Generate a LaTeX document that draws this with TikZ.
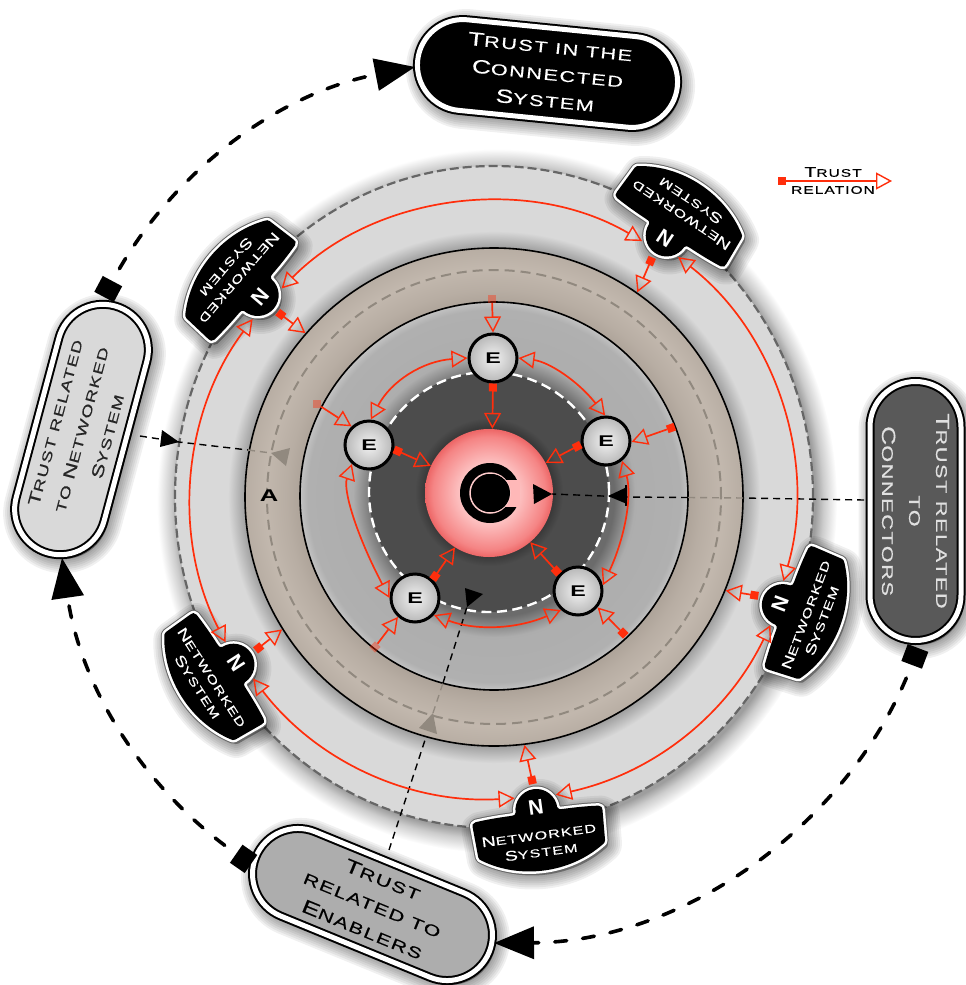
\documentclass[tikz,border=0pt]{standalone}
\usepackage{fontspec}
\usetikzlibrary{arrows.meta,shapes.misc,calc}
\newfontfamily\gf[FakeStretch=1.4,LetterSpace=10,FakeBold=0.35]{Liberation Sans}
\newfontfamily\gn[FakeStretch=1.5]{Liberation Sans}
\definecolor{redc}{RGB}{255,46,12}
\definecolor{ringd}{RGB}{145,137,127}
\newcommand\Tc[2]{{\fontsize{19}{27}\selectfont #1}{\fontsize{15.5}{27}\selectfont #2}}
\newcommand\Td[2]{{\fontsize{16.5}{26}\selectfont #1}{\fontsize{13.6}{26}\selectfont #2}}
\newcommand\Nc[2]{{\fontsize{14}{17}\selectfont #1}{\fontsize{11.5}{17}\selectfont #2}}
\newcommand\Lc[2]{{\fontsize{14}{17}\selectfont #1}{\fontsize{11}{17}\selectfont #2}}
\pgfdeclareradialshading{sglow}{\pgfpointorigin}{rgb(0bp)=(.62,.62,.62);rgb(23.4bp)=(.62,.62,.62);rgb(24bp)=(.8,.8,.8);rgb(25bp)=(1,1,1);rgb(50bp)=(1,1,1)}
\pgfdeclareradialshading{sdisc}{\pgfpointorigin}{rgb(0bp)=(.62,.62,.62);rgb(23.4bp)=(.62,.62,.62);rgb(25bp)=(.85,.85,.85);rgb(50bp)=(.85,.85,.85)}
\pgfdeclareradialshading{sring}{\pgfpointorigin}{rgb(0bp)=(.68,.64,.6);rgb(19.4bp)=(.68,.64,.6);rgb(20.8bp)=(.72,.68,.64);rgb(23bp)=(.76,.72,.68);rgb(25bp)=(.72,.68,.64);rgb(50bp)=(.68,.64,.6)}
\pgfdeclareradialshading{sgray}{\pgfpointorigin}{rgb(0bp)=(.4,.4,.4);rgb(15.5bp)=(.42,.42,.42);rgb(18.2bp)=(.68,.68,.68);rgb(24bp)=(.69,.69,.69);rgb(25bp)=(.76,.76,.76);rgb(50bp)=(.76,.76,.76)}
\pgfdeclareradialshading{sdark}{\pgfpointorigin}{rgb(0bp)=(.22,.22,.22);rgb(13.3bp)=(.22,.22,.22);rgb(15.5bp)=(.3,.3,.3);rgb(25bp)=(.3,.3,.3);rgb(50bp)=(.3,.3,.3)}
\pgfdeclareradialshading{sball}{\pgfpointorigin}{rgb(0bp)=(1,.87,.87);rgb(12bp)=(.99,.75,.75);rgb(22bp)=(.96,.52,.52);rgb(25bp)=(.93,.4,.4);rgb(50bp)=(.93,.4,.4)}
\pgfdeclareradialshading{sE}{\pgfpointorigin}{rgb(0bp)=(.95,.95,.95);rgb(25bp)=(.72,.72,.72);rgb(50bp)=(.72,.72,.72)}
\tikzset{
 tipo/.tip={Triangle[open,length=16pt,width=17pt,line width=1.4pt]},
 tipq/.tip={Square[length=8pt,width=8pt]},
 bigtips/.style={{Square[length=18pt,width=22pt]}-{Triangle[length=40pt,width=32pt]}},
 rel/.style={draw=redc,line width=1.7pt},
 bigdash/.style={draw=black,line width=3.6pt,dash pattern=on 12pt off 16pt,dash phase=12pt,line cap=round},
 thindash/.style={draw=black,line width=1.4pt,dash pattern=on 7pt off 5pt},
 fadedsq/.style={rectangle,fill=redc,opacity=.4,minimum size=8pt,inner sep=0pt},
 enode/.style={circle,draw=black,line width=3pt,minimum size=48pt,inner sep=0pt,shading=sE,font=\gn\bfseries\fontsize{15.5}{16}\selectfont},
 nletter/.style={circle,minimum size=46pt,inner sep=0pt,text=white,font=\fontspec{Liberation Sans}\bfseries\fontsize{21}{21}\selectfont},
 ntext/.style={text=white,inner sep=0pt,font=\gf},
 pillbox/.style={rounded rectangle,draw=black,line width=2pt,double=white,double distance=5pt,inner sep=0pt,align=center,font=\gf\fontsize{16}{27}\selectfont},
 arcb/.style={bend left=#1,looseness=.93}
}
\newcommand\softsh[1]{%
 \foreach \w in {28,24,20,16,12,8,4}{\draw[black,fill=black,opacity=.06,line width=\w pt,line join=round] #1;}}
\def\Npath{(-21,3) .. controls (-21,-8) and (-12,-18) .. (0,-18) .. controls (12,-18) and (21,-8) .. (21,3) .. controls (21,5) and (23,5.5) .. (27,5.5) .. controls (40,5.5) and (52,6) .. (62,7) .. controls (65,8) and (66,9) .. (65.5,12) -- (64,42) .. controls (63.5,44) and (63,45) .. (61,46) .. controls (25,70) and (-25,70) .. (-61,46) .. controls (-63,45) and (-63.5,44) .. (-64,42) -- (-65.5,12) .. controls (-66,9) and (-65,8) .. (-62,7) .. controls (-52,6) and (-40,5.5) .. (-27,5.5) .. controls (-23,5.5) and (-21,5) .. (-21,3) -- cycle}
\newcommand\Nnode[4]{%
 \begin{scope}[shift={(#2+3,#3+4)},rotate=#4]\softsh{\Npath}\end{scope}
 \begin{scope}[shift={(#2,#3)},rotate=#4,transform shape]
  \draw[draw=black!60,line width=7pt,line join=round] \Npath;
  \draw[draw=white,line width=5pt,line join=round] \Npath;
  \fill[black] \Npath;
  \node[nletter] (#1) at (0,0) {N};
  \node[ntext] (#1t1) at (-1,28) {\Nc{N}{ETWORKED}};
  \node[ntext] (#1t2) at (-1,45) {\Nc{S}{YSTEM}};
 \end{scope}}
\newcommand\Pill[8]{%name,x,y,rot,L,fill,textcol,text
 \begin{scope}[shift={(#2+3,#3+4)},rotate=#4]\softsh{(-#5/2+50,-46) arc[start angle=90,end angle=270,radius=46pt] -- (#5/2-50,46) arc[start angle=270,end angle=450,radius=46pt] -- cycle}\end{scope}
 \begin{scope}[shift={(#2,#3)},rotate=#4,transform shape]
  \node[pillbox,fill=#6,text=#7,minimum width=#5pt-9pt,minimum height=91pt] (#1) at (0,0) {#8};
 \end{scope}}
\begin{document}
\begin{tikzpicture}[x=1pt,y=-1pt]
\useasboundingbox (0,0) rectangle (966,985);
% disc glow and elliptical disc
\shade[shading=sglow] (497,501) ellipse[x radius=340pt,y radius=352pt];
\coordinate (dc) at (494,497);
\fill[black!15] (dc) ellipse[x radius=319pt,y radius=331pt];
\draw[draw=black!60,line width=2.2pt,dash pattern=on 9pt off 4pt] (dc) ellipse[x radius=319pt,y radius=331pt];
\shade[shading=sdisc] (dc) circle[radius=266pt];
\node[circle,draw=black,line width=1.6pt,minimum size=498pt,inner sep=0pt,shading=sring] (ring) at (494,497) {};
\draw[draw=ringd,line width=2pt,dash pattern=on 10pt off 6pt] (ring.center) circle[radius=227pt];
\node[circle,draw=black,line width=1.6pt,minimum size=388pt,inner sep=0pt,shading=sgray] (gdisc) at (494,496) {};
\node[circle,minimum size=240pt,inner sep=0pt,shading=sdark] (ddisc) at (489,492) {};
\draw[draw=white,line width=2.4pt,dash pattern=on 10pt off 5.5pt] (ddisc.center) circle[radius=120pt];
% ball and logo
\node[circle,minimum size=128pt,inner sep=0pt,shading=sball] (ball) at (489,493) {};
\begin{scope}
 \clip (455,455) rectangle (518,530);
 \fill[black] (490,493) circle[radius=30pt];
\end{scope}
\fill[red!20!white!90!red] (503,480) rectangle (520,507);
\draw[draw=red!20!white,line width=1.5pt] (490,493) circle[radius=20pt];
\fill[black] (491,493) circle[radius=19pt];
% networked systems
\Nnode{nA}{260}{297}{229.5}
\Nnode{nB}{665}{238}{146.6}
\Nnode{nC}{780}{604}{69.5}
\Nnode{nD}{536}{807}{7.7}
\Nnode{nE}{236}{663}{-57.2}
% pills
\Pill{top}{547.5}{73.5}{-5.7}{270}{black}{white}{\Tc{T}{RUST IN THE}\\\Tc{C}{ONNECTED}\\\Tc{S}{YSTEM}}
\Pill{right}{915.5}{511}{-90}{268}{black!65}{black!12}{\Tc{T}{RUST RELATED}\\\Tc{}{TO}\\\Tc{C}{ONNECTORS}}
\Pill{left}{81.5}{429.5}{75}{265}{black!15}{black!85}{\Td{T}{RUST RELATED}\\\Td{}{TO }\Td{N}{ETWORKED}\\\Td{S}{YSTEM}}
\Pill{bottom}{372.5}{904.5}{-22.3}{261}{black!32}{black}{\Tc{T}{RUST}\\\Tc{}{RELATED TO}\\\Tc{E}{NABLERS}}
% pill ends for the outer arrows
\coordinate (oL) at (104,297);
\coordinate (oT) at (415,67);
\coordinate (oR) at (918,648);
\coordinate (oB) at (494,943);
\coordinate (oBL) at (251,864);
\coordinate (oLB) at (62,558);
\draw[bigdash,bigtips] (oL) to[arcb=25.5] (oT);
\draw[bigdash,bigtips] (oR) to[arcb=34.5] (oB);
\draw[bigdash,bigtips] (oBL) to[arcb=23.5] (oLB);
% thin dashed trust lines
\coordinate (dL0) at (140,436);
\coordinate (dL1) at (179,442);
\coordinate (dL2) at (248,450);
\coordinate (dL3) at (271,453);
\draw[thindash] (dL0) -- (dL1) -- (dL2);
\draw[thindash,draw=ringd] (dL2) -- (dL3);
\fill[black] (162,430) -- (179,442) -- (160,447) -- cycle;
\fill[ringd] (290,448) -- (271,453) -- (286,466) -- cycle;
\coordinate (dR0) at (864,500);
\coordinate (dRa) at (743,498);
\coordinate (dRb) at (688,497.5);
\coordinate (dR1) at (627,497);
\coordinate (dR2) at (552,494);
\draw[thindash] (dR0) -- (dRa);
\draw[thindash,draw=ringd] (dRa) -- (dRb);
\draw[thindash] (dRb) -- (dR1) -- (dR2);
\fill[black] (627,487) -- (608,496) -- (627,504) -- cycle;
\draw[black,line width=2pt] (626,485) -- (626,506);
\fill[black] (533,484) -- (552,494) -- (534,504) -- cycle;
\coordinate (dB0) at (389,850);
\coordinate (dB1) at (425,740);
\coordinate (dB2) at (433,713);
\coordinate (dB3) at (443,683);
\coordinate (dB4) at (467,607);
\draw[thindash] (dB0) -- (dB1);
\draw[thindash,draw=ringd] (dB2) -- (dB3);
\draw[thindash] (dB3) -- (dB4);
\fill[ringd] (433,713) -- (419,728) -- (437,734) -- cycle;
\fill[black] (465,588) -- (483,594) -- (467,607) -- cycle;
% enablers
\node[enode] (e1) at (493,358) {E};
\node[enode] (e2) at (369,445) {E};
\node[enode] (e3) at (606,441) {E};
\node[enode] (e4) at (578,591) {E};
\node[enode] (e5) at (415,598) {E};
% enabler to connector
\draw[rel,tipq-tipo] (e1.270) -- (ball.87);
\draw[rel,tipq-tipo] (e2.350) -- (ball.155);
\draw[rel,tipq-tipo] (e3.188) -- (ball.28);
\draw[rel,tipq-tipo] (e4.138) -- (ball.310);
\draw[rel,tipq-tipo] (e5.46) -- (ball.238);
% enabler ring
\draw[rel,tipo-tipo] (e1.180) .. controls (423,361) and (391,381) .. (e2.86);
\draw[rel,tipo-tipo] (e1.0) .. controls (549,362) and (578,381) .. (e3.92);
\draw[rel,tipo-tipo] (e3.309) .. controls (632,494) and (626,535) .. (e4.13);
\draw[rel,tipo-tipo] (e4.228) .. controls (517,629) and (476,631) .. (e5.318);
\draw[rel,tipo-tipo] (e5.180) .. controls (356,534) and (343,490) .. (e2.228);
% ring to enablers
\node[fadedsq] (q1) at (492,299) {};
\node[fadedsq] (q2) at (317,404) {};
\node[rectangle,fill=redc,minimum size=8pt,inner sep=0pt,rotate=20] (q3) at (671,428) {};
\node[rectangle,fill=redc,minimum size=8pt,inner sep=0pt,rotate=45] (q4) at (623,633) {};
\node[fadedsq,rotate=45] (q5) at (375,647) {};
\draw[rel,-tipo] (q1) -- (e1.90);
\draw[rel,-tipo] (q2) -- (e2.133.5);
\draw[rel,-tipo] (q3) -- (e3.358);
\draw[rel,-tipo] (q4) -- (e4.320);
\draw[rel,-tipo] (q5) -- (e5.228);
% networked ring
\draw[rel,tipo-tipo] (nA.152.3) to[arcb=37.9] (nB.41.9);
\draw[rel,tipo-tipo] (nB.158.9) to[arcb=34.2] (nC.12.5);
\draw[rel,tipo-tipo] (nC.176.5) to[arcb=26] (nD.24.3);
\draw[rel,tipo-tipo] (nD.150.9) to[arcb=28] (nE.15.4);
\draw[rel,tipo-tipo] (nE.174.8) to[arcb=32] (nA.22.1);
% networked to ring
\draw[rel,tipq-tipo] (nA.north) -- (ring.139.4);
\draw[rel,tipq-tipo] (nB.north) -- (ring.55.9);
\draw[rel,tipq-tipo] (nC.north) -- (ring.338.7);
\draw[rel,tipq-tipo] (nD.north) -- (ring.277.5);
\draw[rel,tipq-tipo] (nE.north) -- (ring.212.3);
% label A and legend
\node[inner sep=0pt,font=\gn\bfseries\fontsize{17}{17}\selectfont] (lA) at (269,496) {A};
\coordinate (lg0) at (778,181);
\coordinate (lg1) at (892,181);
\draw[rel,tipq-tipo] (lg0) -- (lg1);
\node[inner sep=0pt,font=\gf] (lg2) at (833,172) {\Lc{T}{RUST}};
\node[inner sep=0pt,font=\gf] (lg3) at (833,190) {\Lc{}{RELATION}};
\end{tikzpicture}
\end{document}
